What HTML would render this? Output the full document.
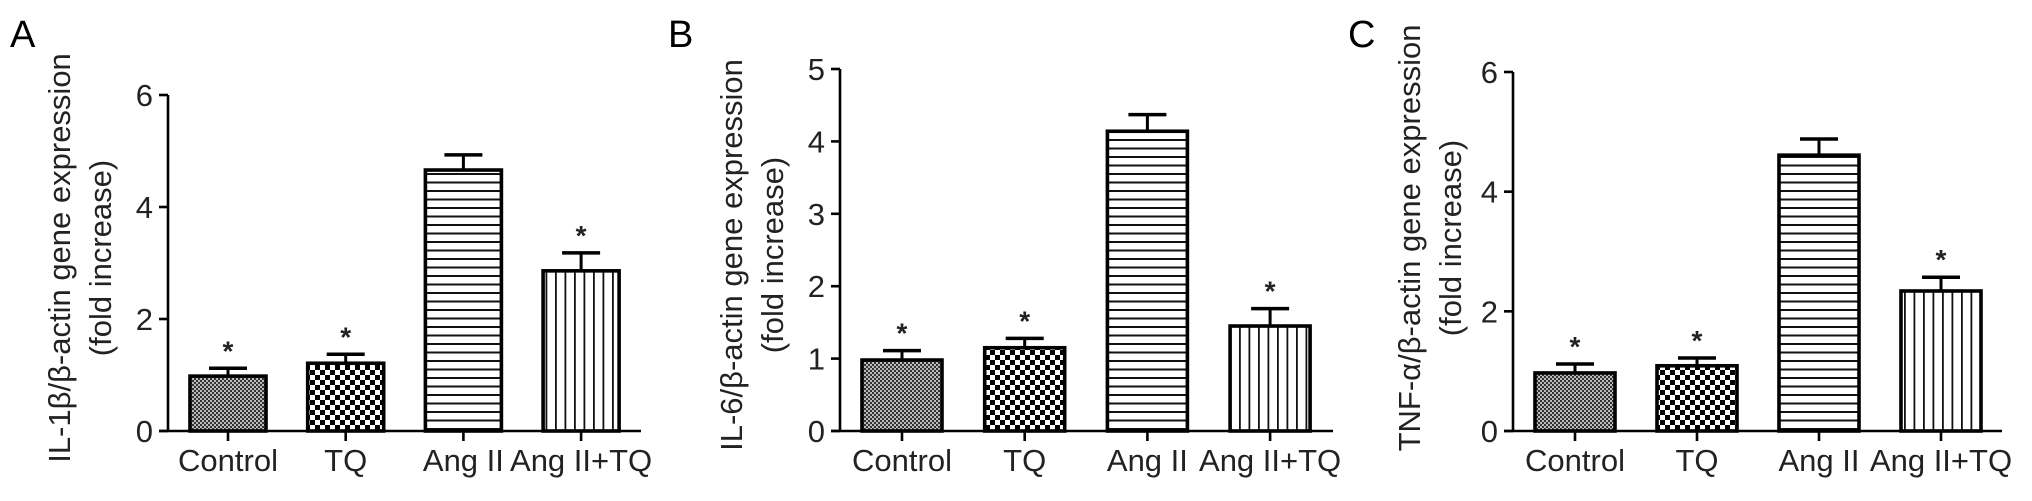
<!DOCTYPE html>
<html><head><meta charset="utf-8"><style>
html,body{margin:0;padding:0;background:#fff;}
svg{display:block;font-family:"Liberation Sans",Arial,sans-serif;}
</style></head><body>
<svg id="fig" width="2032" height="501" viewBox="0 0 2032 501">
<defs>
<pattern id="pCtrl" width="4" height="4" patternUnits="userSpaceOnUse"><rect width="4" height="4" fill="#bbb"/><rect width="2" height="2" fill="#333"/><rect x="2" y="2" width="2" height="2" fill="#333"/></pattern>
<pattern id="pTQ" width="10" height="10" patternUnits="userSpaceOnUse"><rect width="10" height="10" fill="#fff"/><rect width="5" height="5" fill="#000"/><rect x="5" y="5" width="5" height="5" fill="#000"/></pattern>
<pattern id="pAng" width="10" height="8.5" patternUnits="userSpaceOnUse"><rect width="10" height="8.5" fill="#fff"/><rect y="3" width="10" height="2" fill="#111"/></pattern>
<pattern id="pAngTQ" width="9.5" height="10" patternUnits="userSpaceOnUse"><rect width="9.5" height="10" fill="#fff"/><rect x="4" width="1.8" height="10" fill="#111"/></pattern>
</defs>
</svg>
<script>
const categories = ["Control","TQ","Ang II","Ang II+TQ"];
const valuesA = [0.98, 1.21, 4.66, 2.86];
const errorsA = [0.14, 0.16, 0.27, 0.32];
const valuesB = [0.98, 1.15, 4.14, 1.45];
const errorsB = [0.13, 0.13, 0.23, 0.24];
const valuesC = [0.97, 1.09, 4.61, 2.34];
const errorsC = [0.15, 0.13, 0.27, 0.23];
const sigA = [true, true, false, true];
const sigB = [true, true, false, true];
const sigC = [true, true, false, true];
const ticksA = [0, 2, 4, 6];
const ticksB = [0, 1, 2, 3, 4, 5];
const ticksC = [0, 2, 4, 6];
const fills = ["url(#pCtrl)","url(#pTQ)","url(#pAng)","url(#pAngTQ)"];
const NS = "http://www.w3.org/2000/svg";
const svg = document.getElementById("fig");
function mk(tag, attrs, parent, text){
  const e = document.createElementNS(NS, tag);
  for (const k in attrs) e.setAttribute(k, attrs[k]);
  if (text !== undefined) e.textContent = text;
  (parent || svg).appendChild(e);
  return e;
}
function panel(cfg){
  const g = mk("g", {});
  
  
  const y0 = 431;
  const yMax = cfg.ticks[cfg.ticks.length - 1];
  const yScale = v => y0 - v / yMax * (y0 - cfg.yTop);
  const xC = i => cfg.x0 + i * cfg.step;
  const L = mk("text", {x: cfg.letterX, y: 47, "font-size": 38}, g, cfg.letter);
  
  
  const ax = mk("line", {x1: cfg.axX, y1: cfg.yTop, x2: cfg.axX, y2: y0, stroke: "#000", "stroke-width": 2.6}, g);
  
  
  cfg.ticks.forEach(t => {
    const y = yScale(t);
    const tk = mk("line", {x1: cfg.axX - 9, y1: y, x2: cfg.axX, y2: y, stroke: "#000", "stroke-width": 2.6}, g);
    
    
    const tl = mk("text", {x: cfg.axX - 15, y: y + 11, "font-size": 31, "text-anchor": "end", fill: "#222"}, g, String(t));
    
    
  });
  const xa = mk("line", {x1: cfg.axX - 9, y1: y0, x2: cfg.axEnd, y2: y0, stroke: "#000", "stroke-width": 2.6}, g);
  
  
  const tt = mk("text", {transform: `translate(${cfg.t1x},${cfg.tY}) rotate(-90)`, "font-size": 31, "text-anchor": "middle", fill: "#222"}, g, cfg.title);
  
  
  const t2 = mk("text", {transform: `translate(${cfg.t1x + 41},${cfg.tY}) rotate(-90)`, "font-size": 31, "text-anchor": "middle", fill: "#222"}, g, "(fold increase)");
  
  
  categories.forEach((c, i) => {
    const cx = xC(i), v = cfg.values[i], e = cfg.errors[i];
    const yt = yScale(v), ye = yScale(v + e);
    const el = mk("line", {x1: cx, y1: ye, x2: cx, y2: yt, stroke: "#000", "stroke-width": 3}, g);
    
    
    const ec = mk("line", {x1: cx - 19, y1: ye, x2: cx + 19, y2: ye, stroke: "#000", "stroke-width": 3.5}, g);
    
    
    const b = mk("rect", {x: cx - cfg.bw/2, y: yt, width: cfg.bw, height: y0 - yt, fill: fills[i], stroke: "#000", "stroke-width": 3.6}, g);
    
    
    if (cfg.sig[i]) {
      const s = mk("text", {x: cx, y: ye - 8, "font-size": 28, "font-weight": "bold", "text-anchor": "middle", fill: "#222"}, g, "*");
      
      
    }
    const xt = mk("line", {x1: cx, y1: y0, x2: cx, y2: y0 + 10, stroke: "#000", "stroke-width": 2.6}, g);
    
    
    const xl = mk("text", {x: cx, y: 471, "font-size": 31, "text-anchor": "middle", fill: "#222"}, g, c);
    
    
  });
}
panel({letter:"A", letterX:10, axX:168, axEnd:641, yTop:95, ticks:ticksA, x0:228, step:117.7, bw:76,
  values:valuesA, errors:errorsA, sig:sigA, title:"IL-1β/β-actin gene expression", t1x:70, tY:258});
panel({letter:"B", letterX:668, axX:840, axEnd:1333, yTop:69, ticks:ticksB, x0:902, step:122.7, bw:80,
  values:valuesB, errors:errorsB, sig:sigB, title:"IL-6/β-actin gene expression", t1x:742, tY:255});
panel({letter:"C", letterX:1348, axX:1513, axEnd:2002, yTop:72, ticks:ticksC, x0:1575, step:122, bw:80,
  values:valuesC, errors:errorsC, sig:sigC, title:"TNF-α/β-actin gene expression", t1x:1420, tY:238});
</script>
</body></html>
